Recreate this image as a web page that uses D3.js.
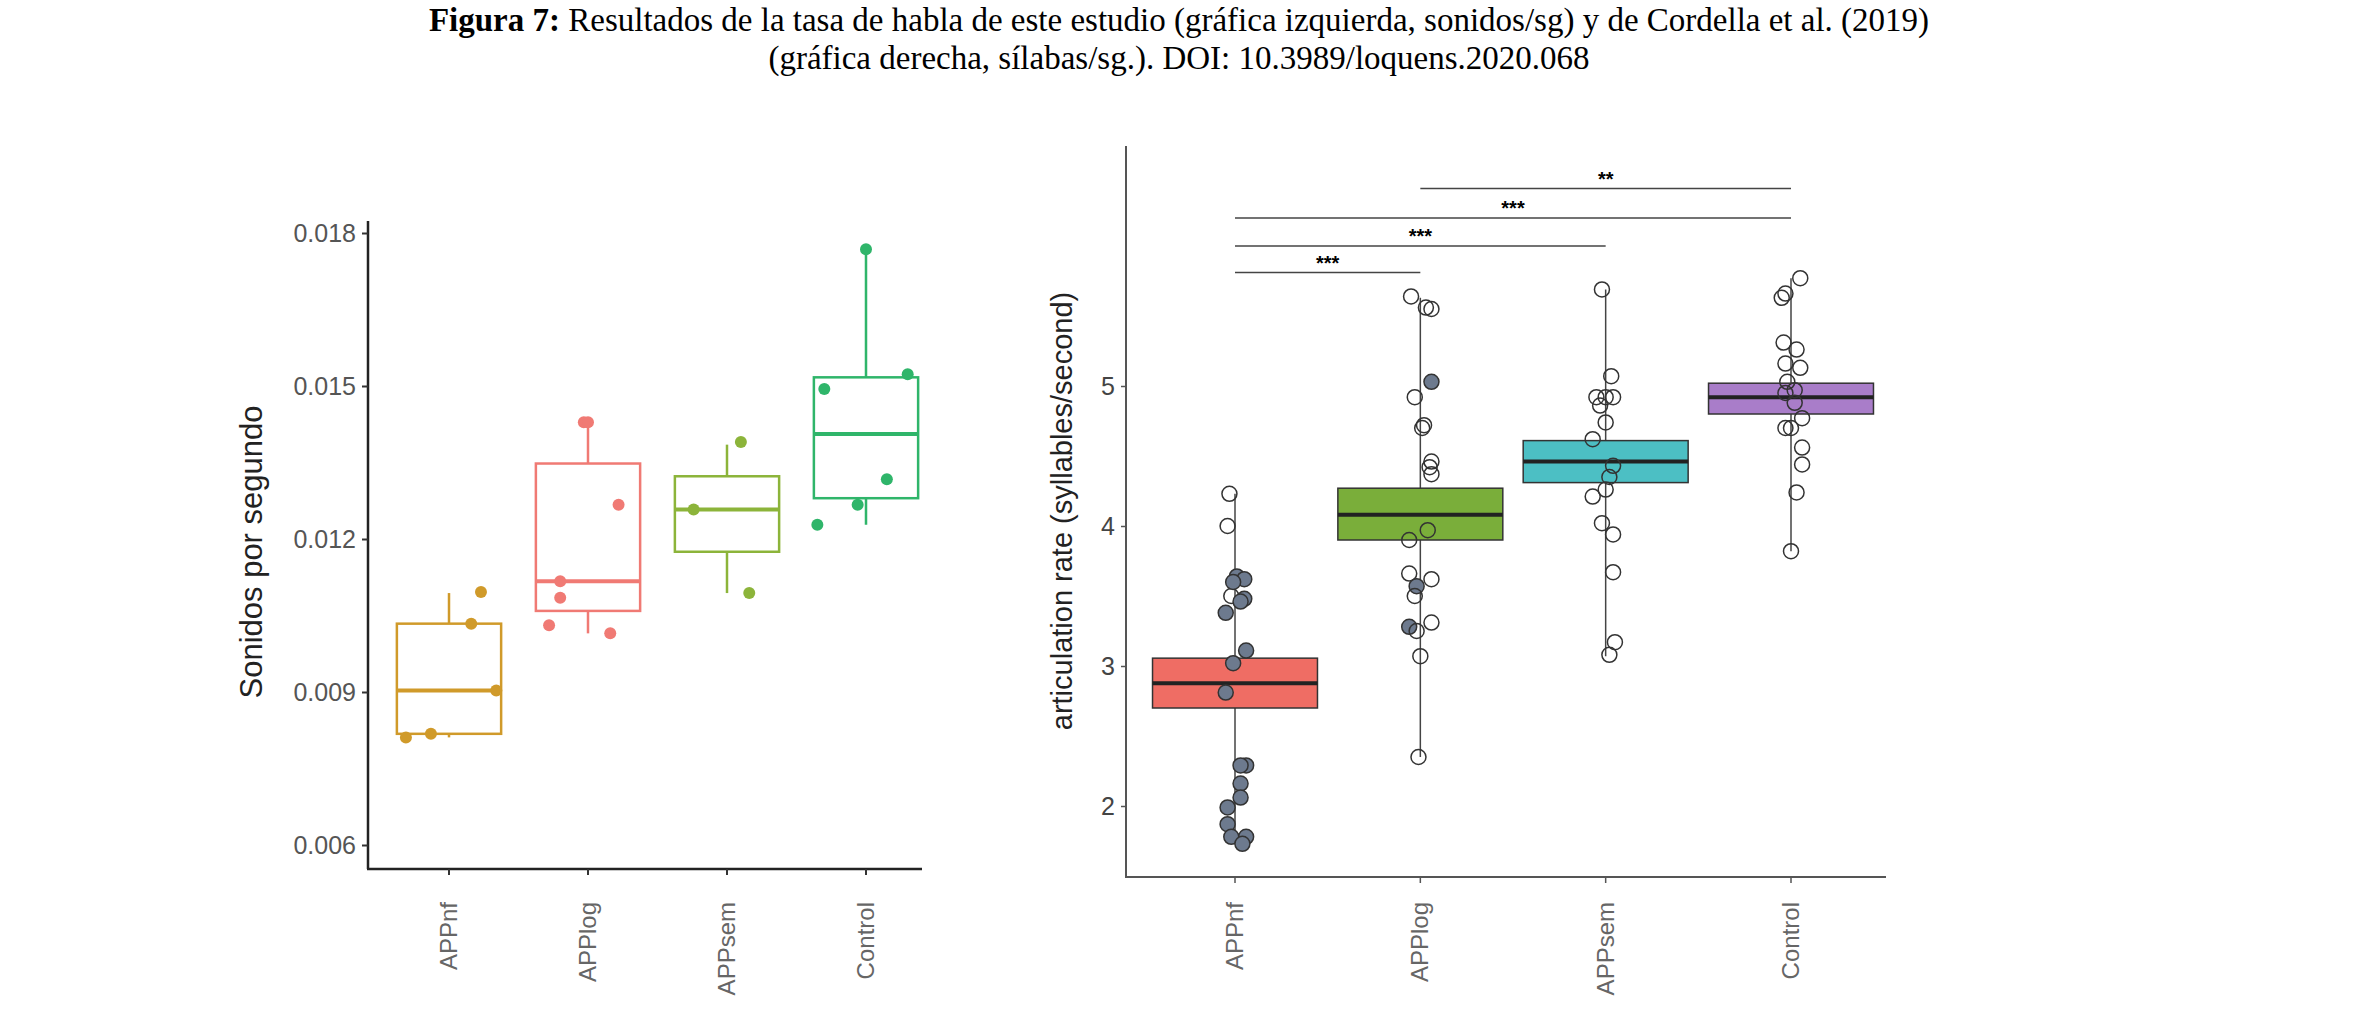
<!DOCTYPE html>
<html><head><meta charset="utf-8">
<script src="https://cdn.jsdelivr.net/npm/d3@7"></script>
<style>body{margin:0;background:#fff}</style>
</head><body>
<svg id="fig" width="2358" height="1016"></svg>
<script>
let groups = ["APPnf", "APPlog", "APPsem", "Control"];

// left chart: sounds per second (this study)
let leftTicks = [0.006, 0.009, 0.012, 0.015, 0.018];
let leftBox = [ // [whiskerLow, q1, median, q3, whiskerHigh]
    [0.00811, 0.00818, 0.00903, 0.01034, 0.01094],
    [0.01015, 0.01059, 0.01117, 0.01348, 0.01427],
    [0.01094, 0.01175, 0.01258, 0.01323, 0.01385],
    [0.01228, 0.01280, 0.01406, 0.01517, 0.01768]
];
let leftPoints = [ // [group, value, jitter]
    [0, 0.00811, -0.31], [0, 0.00818, -0.13], [0, 0.01034, 0.16], [0, 0.01096, 0.23], [0, 0.00903, 0.34],
    [1, 0.01429, -0.03], [1, 0.01429, 0.0], [1, 0.01267, 0.22], [1, 0.01117, -0.2], [1, 0.01085, -0.2], [1, 0.01031, -0.28], [1, 0.01015, 0.16],
    [2, 0.0139, 0.1], [2, 0.01258, -0.24], [2, 0.01094, 0.16],
    [3, 0.01768, 0.0], [3, 0.01523, 0.3], [3, 0.01494, -0.3], [3, 0.01317, 0.15], [3, 0.01267, -0.06], [3, 0.01228, -0.35]
];
let leftColors = ["#d09a2a", "#f07a74", "#8cb43a", "#2fb56a"];

// right chart: syllables per second (Cordella et al. 2019)
let rightTicks = [2, 3, 4, 5];
let rightBox = [
    [1.73, 2.70, 2.877, 3.056, 4.23],
    [2.35, 3.90, 4.08, 4.27, 5.63],
    [3.07, 4.31, 4.46, 4.61, 5.69],
    [3.82, 4.80, 4.92, 5.02, 5.77]
];
let rightPoints = [ // [group, value, jitter, filled]
    [0,4.23,-0.03,0],[0,4.00,-0.04,0],[0,3.50,-0.02,0],[0,3.64,0.01,1],[0,3.62,0.05,1],[0,3.60,-0.01,1],[0,3.48,0.05,1],[0,3.46,0.03,1],
    [0,3.38,-0.05,1],[0,3.11,0.06,1],[0,3.02,-0.01,1],[0,2.81,-0.05,1],[0,2.29,0.06,1],[0,2.29,0.03,1],[0,2.16,0.03,1],[0,2.06,0.03,1],
    [0,1.99,-0.04,1],[0,1.87,-0.04,1],[0,1.78,-0.02,1],[0,1.78,0.06,1],[0,1.73,0.04,1],
    [1,5.64,-0.05,0],[1,5.56,0.03,0],[1,5.55,0.06,0],[1,5.03,0.06,1],[1,4.92,-0.03,0],[1,4.72,0.02,0],[1,4.70,0.01,0],[1,4.46,0.06,0],
    [1,4.42,0.05,0],[1,4.37,0.06,0],[1,3.90,-0.06,0],[1,3.97,0.04,0],[1,3.66,-0.06,0],[1,3.62,0.06,0],[1,3.57,-0.02,1],[1,3.50,-0.03,0],
    [1,3.28,-0.06,1],[1,3.25,-0.02,0],[1,3.31,0.06,0],[1,3.07,0.0,0],[1,2.35,-0.01,0],
    [2,5.69,-0.02,0],[2,5.07,0.03,0],[2,4.92,-0.05,0],[2,4.92,0.0,0],[2,4.92,0.04,0],[2,4.86,-0.03,0],[2,4.74,0.0,0],[2,4.62,-0.07,0],
    [2,4.43,0.04,0],[2,4.35,0.02,0],[2,4.26,0.0,0],[2,4.21,-0.07,0],[2,4.02,-0.02,0],[2,3.94,0.04,0],[2,3.67,0.04,0],[2,3.17,0.05,0],[2,3.08,0.02,0],
    [3,5.77,0.05,0],[3,5.63,-0.05,0],[3,5.66,-0.03,0],[3,5.31,-0.04,0],[3,5.26,0.03,0],[3,5.16,-0.03,0],[3,5.13,0.05,0],[3,5.03,-0.02,0],
    [3,4.97,0.02,0],[3,4.95,-0.03,0],[3,4.88,0.02,0],[3,4.77,0.06,0],[3,4.70,-0.03,0],[3,4.70,0.0,0],[3,4.56,0.06,0],[3,4.44,0.06,0],[3,4.24,0.03,0],[3,3.82,0.0,0]
];
let rightColors = ["#ef6d64", "#7aae3a", "#4cbfc4", "#a97dc9"];
let brackets = [ // [from, to, y, label]
    [0, 1, 5.81, "***"], [0, 2, 6.0, "***"], [0, 3, 6.2, "***"], [1, 3, 6.41, "**"]
];

let svg = d3.select("#fig");
let sans = "Liberation Sans, Arial, sans-serif";

// title
let title = svg.append("text").attr("text-anchor", "middle")
    .attr("font-family", "Liberation Serif, Times New Roman, serif").attr("font-size", 33);
let t1 = title.append("tspan").attr("x", 1179).attr("y", 31);
t1.append("tspan").attr("font-weight", "bold").text("Figura 7:");
t1.append("tspan").text(" Resultados de la tasa de habla de este estudio (gráfica izquierda, sonidos/sg) y de Cordella et al. (2019)");
title.append("tspan").attr("x", 1179).attr("y", 69)
    .text("(gráfica derecha, sílabas/sg.). DOI: 10.3989/loquens.2020.068");

function xLabels(g, x, y0, color) {
    groups.forEach(n => {
        g.append("text")
            .attr("transform", `translate(${x(n) + 8},${y0}) rotate(-90)`)
            .attr("text-anchor", "end").attr("fill", color)
            .attr("font-family", sans).attr("font-size", 24)
            .text(n);
    });
}

// ---- left chart
{
    let x = d3.scalePoint().domain(groups).range([449, 866]);
    let step = x.step();
    let y = d3.scaleLinear().domain([0.006, 0.018]).range([845, 233]);
    let g = svg.append("g");
    let yAxis = g.append("g").attr("transform", "translate(368,0)")
        .call(d3.axisLeft(y).tickValues(leftTicks).tickFormat(d3.format(".3f")).tickSize(6).tickPadding(6));
    yAxis.select(".domain").attr("d", "M0,221V869").attr("stroke", "#222").attr("stroke-width", 2.5);
    yAxis.selectAll("text").attr("font-size", 25).attr("fill", "#555").attr("font-family", sans);
    yAxis.selectAll("line").attr("stroke", "#333").attr("stroke-width", 2);
    g.append("line").attr("x1", 367).attr("x2", 922).attr("y1", 869).attr("y2", 869).attr("stroke", "#222").attr("stroke-width", 2.5);
    groups.forEach(n => g.append("line").attr("x1", x(n)).attr("x2", x(n)).attr("y1", 869).attr("y2", 875).attr("stroke", "#333").attr("stroke-width", 2));
    xLabels(g, x, 902, "#666");
    g.append("text").attr("transform", "translate(262,552) rotate(-90)").attr("text-anchor", "middle")
        .attr("font-family", sans).attr("font-size", 31).attr("fill", "#222")
        .text("Sonidos por segundo");
    let bw = step * 0.75;
    leftBox.forEach((b, i) => {
        let cx = x(groups[i]), c = leftColors[i];
        g.append("line").attr("x1", cx).attr("x2", cx).attr("y1", y(b[0])).attr("y2", y(b[4])).attr("stroke", c).attr("stroke-width", 2.5);
        g.append("rect").attr("x", cx - bw / 2).attr("width", bw).attr("y", y(b[3])).attr("height", y(b[1]) - y(b[3]))
            .attr("fill", "#fff").attr("stroke", c).attr("stroke-width", 2.5);
        g.append("line").attr("x1", cx - bw / 2).attr("x2", cx + bw / 2).attr("y1", y(b[2])).attr("y2", y(b[2])).attr("stroke", c).attr("stroke-width", 4);
    });
    g.selectAll(".lp").data(leftPoints).enter().append("circle")
        .attr("cx", d => x(groups[d[0]]) + d[2] * step).attr("cy", d => y(d[1])).attr("r", 6)
        .attr("fill", d => leftColors[d[0]]);
}

// ---- right chart
{
    let x = d3.scalePoint().domain(groups).range([1235, 1791]);
    let step = x.step();
    let y = d3.scaleLinear().domain([2, 5]).range([806, 386]);
    let g = svg.append("g");
    let yAxis = g.append("g").attr("transform", "translate(1126,0)")
        .call(d3.axisLeft(y).tickValues(rightTicks).tickFormat(d3.format("d")).tickSize(5).tickPadding(6));
    yAxis.select(".domain").attr("d", "M0,146V877").attr("stroke", "#555").attr("stroke-width", 2);
    yAxis.selectAll("text").attr("font-size", 25).attr("fill", "#444").attr("font-family", sans);
    yAxis.selectAll("line").attr("stroke", "#555").attr("stroke-width", 1.5);
    g.append("line").attr("x1", 1125).attr("x2", 1886).attr("y1", 877).attr("y2", 877).attr("stroke", "#555").attr("stroke-width", 2);
    groups.forEach(n => g.append("line").attr("x1", x(n)).attr("x2", x(n)).attr("y1", 877).attr("y2", 883).attr("stroke", "#555").attr("stroke-width", 1.5));
    xLabels(g, x, 902, "#666");
    g.append("text").attr("transform", "translate(1072,511) rotate(-90)").attr("text-anchor", "middle")
        .attr("font-family", sans).attr("font-size", 29).attr("fill", "#222")
        .text("articulation rate (syllables/second)");
    let bw = step * 0.89;
    rightBox.forEach((b, i) => {
        let cx = x(groups[i]);
        g.append("line").attr("x1", cx).attr("x2", cx).attr("y1", y(b[0])).attr("y2", y(b[4])).attr("stroke", "#444").attr("stroke-width", 1.5);
        g.append("rect").attr("x", cx - bw / 2).attr("width", bw).attr("y", y(b[3])).attr("height", y(b[1]) - y(b[3]))
            .attr("fill", rightColors[i]).attr("stroke", "#333").attr("stroke-width", 1.5);
        g.append("line").attr("x1", cx - bw / 2).attr("x2", cx + bw / 2).attr("y1", y(b[2])).attr("y2", y(b[2])).attr("stroke", "#222").attr("stroke-width", 4);
    });
    g.selectAll(".rp").data(rightPoints).enter().append("circle")
        .attr("cx", d => x(groups[d[0]]) + d[2] * step).attr("cy", d => y(d[1])).attr("r", 7.5)
        .attr("fill", d => d[3] ? "#6d7a8e" : "none").attr("stroke", "#333").attr("stroke-width", 1.5);
    brackets.forEach(b => {
        let x1 = x(groups[b[0]]), x2 = x(groups[b[1]]);
        g.append("line").attr("x1", x1).attr("x2", x2).attr("y1", y(b[2])).attr("y2", y(b[2])).attr("stroke", "#444").attr("stroke-width", 1.5);
        g.append("text").attr("x", (x1 + x2) / 2).attr("y", y(b[2]) - 3).attr("text-anchor", "middle")
            .attr("font-family", sans).attr("font-size", 20).attr("font-weight", "bold").text(b[3]);
    });
}
</script>
</body></html>
